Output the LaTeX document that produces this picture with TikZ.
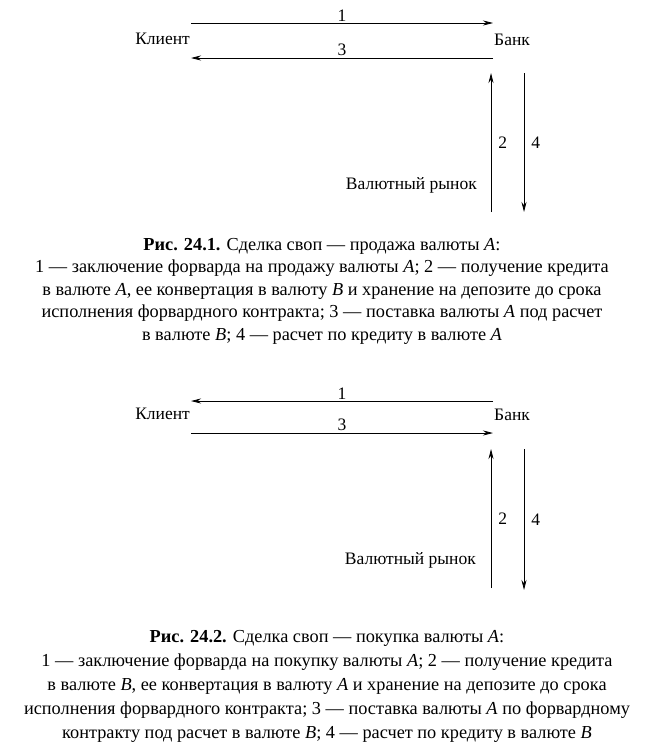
\documentclass[tikz,border=0pt]{standalone}
\usepackage{fontspec}
\setmainfont{Liberation Serif}
\usetikzlibrary{arrows.meta, positioning, calc}

\begin{document}
\begin{tikzpicture}[
    x=1pt, y=-1pt,
    every node/.style={font=\fontsize{17.5}{20}\selectfont, inner sep=1pt},
    arr/.style={-{Stealth[length=10pt, width=5pt]}, line width=0.8pt},
    caption/.style={align=center, font=\fontsize{18.3}{22.5}\selectfont}
]
\useasboundingbox (0,0) rectangle (658,744);

% Рис. 24.1
\node[anchor=east] (klient1) at (191,39) {Клиент};
\node[anchor=west] (bank1) at (493,40) {Банк};
\node[anchor=east] (rynok1) at (478,185) {Валютный рынок};
\coordinate (b1up) at (491,73);
\coordinate (r1up) at (491,212);
\coordinate (b1dn) at (524,73);
\coordinate (r1dn) at (524,212);

\draw[arr] ([yshift=16pt]klient1.east) -- node[above=1.5pt, inner sep=0pt] {1} ([yshift=17pt]bank1.west);
\draw[arr] ([yshift=-18pt]bank1.west) -- node[above=1.5pt, inner sep=0pt] {3} ([yshift=-19pt]klient1.east);
\draw[arr] (r1up) -- node[right=6pt] {2} (b1up);
\draw[arr] (b1dn) -- node[right=6pt] {4} (r1dn);

\node[caption] (cap1) at (322,291) {%
    \textbf{Рис. 24.1.} Сделка своп — продажа валюты \textit{A}:\\
    1 — заключение форварда на продажу валюты \textit{A}; 2 — получение кредита\\
    в валюте \textit{A}, ее конвертация в валюту \textit{B} и хранение на депозите до срока\\
    исполнения форвардного контракта; 3 — поставка валюты \textit{A} под расчет\\
    в валюте \textit{B}; 4 — расчет по кредиту в валюте \textit{A}};

% Рис. 24.2
\node[anchor=east] (klient2) at (191,414) {Клиент};
\node[anchor=west] (bank2) at (493,415) {Банк};
\node[anchor=east] (rynok2) at (477,560) {Валютный рынок};
\coordinate (b2up) at (491,449);
\coordinate (r2up) at (491,588);
\coordinate (b2dn) at (524,449);
\coordinate (r2dn) at (524,590);

\draw[arr] ([yshift=14pt]bank2.west) -- node[above=1.5pt, inner sep=0pt] {1} ([yshift=13pt]klient2.east);
\draw[arr] ([yshift=-19pt]klient2.east) -- node[above=1.5pt, inner sep=0pt] {3} ([yshift=-18pt]bank2.west);
\draw[arr] (r2up) -- node[right=6pt] {2} (b2up);
\draw[arr] (b2dn) -- node[right=6pt] {4} (r2dn);

\node[caption, font=\fontsize{18.3}{24}\selectfont] (cap2) at (327,686) {%
    \textbf{Рис. 24.2.} Сделка своп — покупка валюты \textit{A}:\\
    1 — заключение форварда на покупку валюты \textit{A}; 2 — получение кредита\\
    в валюте \textit{B}, ее конвертация в валюту \textit{A} и хранение на депозите до срока\\
    исполнения форвардного контракта; 3 — поставка валюты \textit{A} по форвардному\\
    контракту под расчет в валюте \textit{B}; 4 — расчет по кредиту в валюте \textit{B}};
\end{tikzpicture}
\end{document}
